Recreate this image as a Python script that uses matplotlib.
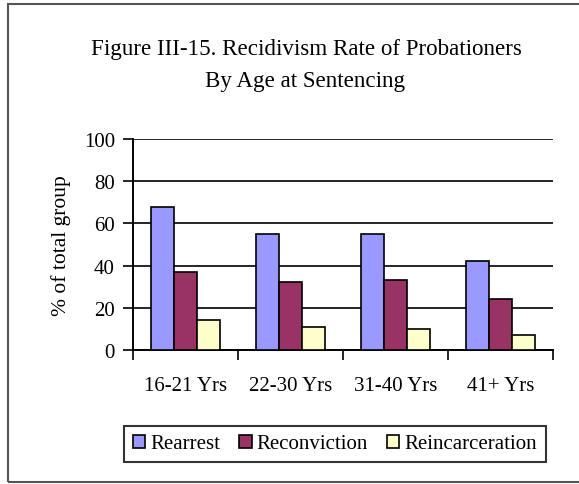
import matplotlib
matplotlib.use("Agg")
import matplotlib.pyplot as plt
from matplotlib.patches import Rectangle, Patch
import numpy as np

categories = ["16-21 Yrs", "22-30 Yrs", "31-40 Yrs", "41+ Yrs"]
series_names = ["Rearrest", "Reconviction", "Reincarceration"]
rearrest = [68, 55, 55, 42]
reconviction = [37, 32, 33, 24]
reincarceration = [14, 11, 10, 7]
y_ticks = [0, 20, 40, 60, 80, 100]
colors = ["#9999FF", "#993366", "#FFFFCC"]

plt.rcParams['font.family'] = ['Liberation Serif', 'DejaVu Serif']

W, H = 579, 485
fig = plt.figure(figsize=(W / 100, H / 100), dpi=100)

# outer border
fig.patches.append(Rectangle((8 / W, 2 / H), 1 - 8 / W + 0.01, (483 - 5) / H,
                             transform=fig.transFigure, fill=False,
                             edgecolor="#555555", linewidth=1.5))

ax = fig.add_axes([133 / W, 1 - 351 / H, (553 - 133) / W, (351 - 140) / H])
x = np.arange(len(categories))
bw = 0.22
for i, (vals, c) in enumerate(zip([rearrest, reconviction, reincarceration], colors)):
    ax.bar(x + (i - 1) * bw, vals, width=bw, color=c, edgecolor="black",
           linewidth=1.2, zorder=3)

ax.set_xlim(-0.5, 3.5)
ax.set_ylim(0, 100)
ax.set_yticks(y_ticks)
ax.set_yticklabels([str(v) for v in y_ticks], fontsize=15)
ax.yaxis.grid(True, color="black", linewidth=1.2, zorder=0)
ax.set_axisbelow(True)

ax.set_xticks(x)
ax.set_xticklabels(categories, fontsize=15)
ax.tick_params(axis='x', length=0, pad=19)
ax.set_xticks(np.arange(-0.5, 4, 1), minor=True)
ax.tick_params(axis='x', which='minor', length=7, width=1.2, direction='out')
ax.tick_params(axis='y', length=7, width=1.2, direction='out', pad=6)

for s in ["top", "right"]:
    ax.spines[s].set_visible(False)
for s in ["left", "bottom"]:
    ax.spines[s].set_linewidth(1.4)

ax.set_ylabel("% of total group", fontsize=15.5, labelpad=9)

fig.text(306 / W, 1 - 50 / H, "Figure III-15. Recidivism Rate of Probationers",
         ha="center", va="center", fontsize=16.6)
fig.text(305 / W, 1 - 82 / H, "By Age at Sentencing",
         ha="center", va="center", fontsize=16.6)

handles = [Patch(facecolor=c, edgecolor="black", linewidth=1.2) for c in colors]
leg = fig.legend(handles, series_names, loc="center",
                 bbox_to_anchor=(335 / W, 1 - 445 / H), ncol=3, fontsize=15,
                 frameon=True, fancybox=False, handlelength=0.6, handleheight=0.6,
                 handletextpad=0.25, columnspacing=0.9, borderpad=0.4,
                 borderaxespad=0)
leg.get_frame().set_edgecolor("black")
leg.get_frame().set_linewidth(1.5)

fig.savefig("out.png", dpi=100)
